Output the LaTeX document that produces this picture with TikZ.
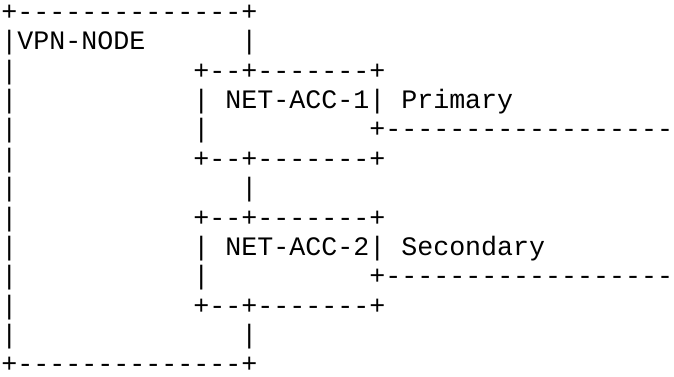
\documentclass[tikz,border=0pt]{standalone}
\usepackage{fontspec}
\setmonofont{Liberation Mono}
\usepackage{tikz}
\usetikzlibrary{positioning}

\begin{document}
\begin{tikzpicture}[
    x=1pt, y=1pt,
    font=\ttfamily\fontsize{26.65pt}{29.33pt}\selectfont,
    row/.style={
		anchor=base west,
		inner sep=0pt,
		outer sep=0pt
	}
  ]
  \useasboundingbox (0,0) rectangle (674,-377);
    % one node for every line of the drawing

  \node [row] (vpntop)  at (1.5,-20.7)  {+--------------+};
  \node [row] (vpnname) at (1.5,-50.0)  {|VPN-NODE~~~~~~|};

  % first access
  \node [row] (acc1top) at (1.5,-79.4)  {|~~~~~~~~~~~+--+-------+};
  \node [row] (acc1txt) at (1.5,-108.7) {|~~~~~~~~~~~|~NET-ACC-1|~Primary};
  \node [row] (acc1lnk) at (1.5,-138.0) {|~~~~~~~~~~~|~~~~~~~~~~+------------------};
  \node [row] (acc1bot) at (1.5,-167.4) {|~~~~~~~~~~~+--+-------+};
  \node [row] (mid)     at (1.5,-196.7) {|~~~~~~~~~~~~~~|};

  % second access
  \node [row] (acc2top) at (1.5,-226.0) {|~~~~~~~~~~~+--+-------+};
  \node [row] (acc2txt) at (1.5,-255.4) {|~~~~~~~~~~~|~NET-ACC-2|~Secondary};
  \node [row] (acc2lnk) at (1.5,-284.7) {|~~~~~~~~~~~|~~~~~~~~~~+------------------};
  \node [row] (acc2bot) at (1.5,-314.0) {|~~~~~~~~~~~+--+-------+};
  \node [row] (low)     at (1.5,-343.4) {|~~~~~~~~~~~~~~|};
  \node [row] (vpnbot)  at (1.5,-372.7) {+--------------+};
\end{tikzpicture}
\end{document}
